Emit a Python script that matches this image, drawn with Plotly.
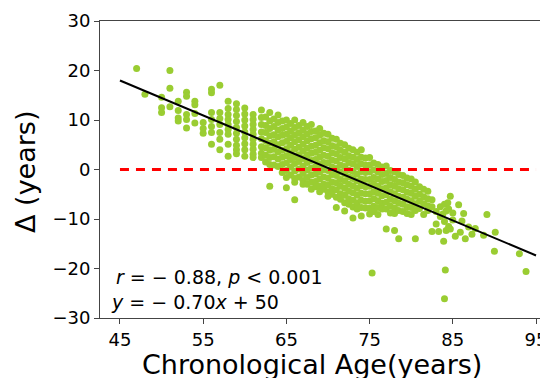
import plotly.graph_objects as go

# ---------------- data ----------------
# chronological age columns and the brain-age delta values found in each column
left_ages = [47, 48, 50, 51, 52, 53, 54, 55, 56, 57, 58, 59, 60, 61]
left_deltas = [
    [20.4],
    [15.2],
    [14.6, 12.5, 11.5],
    [20.0, 16.4, 12.7],
    [13.8, 11.9, 10.4, 9.8],
    [15.6, 14.8, 11.1, 10.1, 8.4],
    [13.8, 13.1, 11.3, 9.4],
    [9.5, 8.3, 7.3],
    [16.2, 15.5, 11.5, 10.1, 8.7, 7.5, 5.1],
    [17.0, 11.5, 10.3, 9.1, 7.5, 6.1, 4.0],
    [13.8, 12.3, 11.1, 10.1, 9.1, 8.1, 7.1, 5.1, 2.7],
    [13.3, 12.1, 10.9, 9.7, 8.5, 7.3, 6.1, 4.9, 4.0, 3.2],
    [12.4, 11.2, 10.0, 8.8, 7.6, 6.4, 5.2, 4.0, 2.7],
    [11.1, 10.1, 9.1, 8.1, 7.1, 6.1, 5.1, 4.1, 3.1, 2.4],
]

mid_ages = [62, 62.5, 63, 63.5, 64, 64.5, 65, 65.5, 66, 66.5, 67, 67.5, 68, 68.5,
            69, 69.5, 70, 70.5, 71, 71.5, 72, 72.5]
mid_deltas = [
    [12.0, 10.5, 9.1, 7.6, 6.2, 4.6, 3.3, 2.4],
    [10.6, 8.9, 7.5, 5.8, 4.4, 2.9, 1.5],
    [11.5, 9.8, 8.3, 6.8, 5.3, 3.9, 2.4, 1.0, -3.4],
    [10.2, 8.7, 7.0, 5.6, 4.1, 2.6, 0.9],
    [11.0, 9.5, 8.0, 6.6, 5.0, 3.6, 2.1, 0.6],
    [9.8, 8.3, 6.9, 5.4, 3.9, 2.5, 1.0, -0.6],
    [10.0, 8.6, 7.1, 5.7, 4.2, 2.8, 1.3, -0.2, -1.6, -3.7],
    [9.3, 7.8, 6.4, 4.9, 3.4, 2.0, 0.5, -1.1],
    [10.0, 8.5, 7.0, 5.6, 4.1, 2.6, 1.2, -0.3, -1.8, -2.6, -6.1],
    [8.9, 7.4, 6.0, 4.5, 3.0, 1.6, 0.1, -1.5],
    [9.5, 8.0, 6.6, 5.1, 3.7, 2.2, 0.7, -0.8, -2.2, -3.0],
    [8.7, 7.2, 5.8, 4.3, 2.9, 1.4, -0.1, -1.6, -3.0],
    [9.1, 7.7, 6.2, 4.7, 3.3, 1.8, 0.3, -1.1, -2.6, -4.0],
    [7.8, 6.4, 4.9, 3.5, 2.0, 0.6, -0.9, -2.4, -3.5],
    [8.3, 6.9, 5.4, 3.9, 2.5, 1.0, -0.5, -1.9, -3.4, -4.5],
    [7.3, 5.8, 4.4, 2.9, 1.4, 0.0, -1.5, -3.0, -4.0],
    [7.1, 5.6, 4.2, 2.7, 1.3, -0.2, -1.7, -3.1, -4.5, -5.4],
    [6.3, 4.8, 3.4, 1.9, 0.5, -1.0, -2.5, -3.9, -5.0],
    [6.1, 4.6, 3.2, 1.7, 0.2, -1.2, -2.7, -4.1, -5.6, -7.7],
    [5.3, 3.9, 2.4, 0.9, -0.5, -2.0, -3.4, -4.9, -6.0],
    [5.0, 3.5, 2.1, 0.6, -0.9, -2.3, -3.8, -5.2, -6.7, -8.4],
    [4.3, 2.8, 1.4, -0.1, -1.5, -3.0, -4.4, -5.9, -7.0],
]

late_ages = [73, 73.5, 74, 74.5, 75, 75.3, 75.5, 76, 76.5, 77, 77.5, 78, 78.5,
             79, 79.5, 80, 80.5, 81, 81.5, 82, 82.5]
late_deltas = [
    [4.0, 2.5, 1.1, -0.4, -1.8, -3.3, -4.7, -6.2, -7.6, -9.8],
    [3.5, 2.0, 0.6, -0.9, -2.3, -3.8, -5.2, -6.7, -8.0],
    [4.0, 2.5, 1.1, -0.4, -1.9, -3.3, -4.8, -6.2, -7.7, -9.4],
    [2.3, 0.9, -0.6, -2.0, -3.5, -4.9, -6.4, -7.8],
    [2.4, 0.9, -0.5, -2.0, -3.4, -4.9, -6.3, -7.8, -9.0],
    [-20.9],
    [1.3, -0.1, -1.6, -3.0, -4.5, -5.9, -7.4, -8.5],
    [1.0, -0.5, -1.9, -3.4, -4.8, -6.3, -7.7, -9.1],
    [0.5, -1.0, -2.4, -3.9, -5.3, -6.8, -8.0],
    [0.7, -0.8, -2.2, -3.7, -5.1, -6.6, -8.0, -12.0],
    [-0.2, -1.6, -3.1, -4.5, -6.0, -7.4, -8.8],
    [-0.5, -2.0, -3.4, -4.9, -6.3, -7.8, -8.9, -12.3],
    [-1.0, -2.5, -3.9, -5.4, -6.8, -8.3, -14.0],
    [-1.2, -2.7, -4.1, -5.6, -7.0, -8.5],
    [-1.7, -3.1, -4.6, -6.0, -7.5, -8.9],
    [-1.9, -3.4, -4.8, -6.3, -7.7, -9.1],
    [-2.5, -4.0, -5.4, -6.9, -8.3, -14.0],
    [-3.5, -5.0, -6.4, -7.9],
    [-4.0, -5.5, -6.9, -9.1],
    [-4.4, -5.9, -7.3, -8.3],
    [-6.1, -7.5, -12.5],
]

old_ages = [83.0, 83.0, 83.3, 83.5, 83.5, 83.8, 83.9, 84.0, 84.0, 84.0, 84.1, 84.2,
            84.2, 84.4, 84.5, 84.5, 84.7, 84.7, 85.0, 85.0, 85.3, 85.7, 85.9, 86.1,
            86.3, 86.5, 86.9, 87.3, 87.7, 88.7, 89.1, 90.0, 90.1, 93.0, 93.8]
old_deltas = [-8.5, -11.0, -12.5, -7.5, -9.5, -9.0, -14.5, -7.0, -10.5, -26.1, -20.3, -8.4,
              -12.3, -6.7, -11.5, -8.0, -5.4, -12.0, -10.2, -8.8, -13.5, -7.1, -12.7, -10.4,
              -8.9, -14.0, -11.6, -13.1, -11.9, -13.3, -9.1, -16.5, -12.7, -17.0, -20.6]

# fitted regression line reported in the figure
fit_slope = -0.707
fit_intercept = 49.8
fit_x = [45, 95]
ref_x = [45, 95]
ref_y = [0, 0]

x_ticks = [45, 55, 65, 75, 85, 95]
y_ticks = [-30, -20, -10, 0, 10, 20, 30]

# ---------------- assemble ----------------
ages, deltas = [], []
for a_list, d_list in ((left_ages, left_deltas), (mid_ages, mid_deltas), (late_ages, late_deltas)):
    for a, ds in zip(a_list, d_list):
        for d in ds:
            ages.append(a)
            deltas.append(d)
ages += old_ages
deltas += old_deltas

fit_y = [fit_slope * x + fit_intercept for x in fit_x]

FONT = "DejaVu Sans"

fig = go.Figure()
fig.add_trace(go.Scatter(
    x=ages, y=deltas, mode="markers",
    marker=dict(color="#9ACD32", size=7, line=dict(width=0)),
    showlegend=False, hoverinfo="skip", cliponaxis=False))
fig.add_trace(go.Scatter(
    x=ref_x, y=ref_y, mode="lines",
    line=dict(color="#FF0000", width=3, dash="9px,7px"),
    showlegend=False))
fig.add_trace(go.Scatter(
    x=fit_x, y=fit_y, mode="lines",
    line=dict(color="black", width=2),
    showlegend=False))

fig.add_annotation(x=0.031, y=0.138, xref="paper", yref="paper", xanchor="left", yanchor="middle",
                   text="<i>r</i> = − 0.88, <i>p</i> < 0.001", showarrow=False,
                   font=dict(family=FONT, size=19, color="black"))
fig.add_annotation(x=0.02, y=0.055, xref="paper", yref="paper", xanchor="left", yanchor="middle",
                   text="<i>y</i> = − 0.70<i>x</i> + 50", showarrow=False,
                   font=dict(family=FONT, size=19, color="black"))

# axis titles
fig.add_annotation(x=0.473, y=-0.158, xref="paper", yref="paper", xanchor="center", yanchor="middle",
                   text="Chronological Age(years)", showarrow=False, borderpad=0,
                   font=dict(family=FONT, size=27, color="black"))
fig.add_annotation(x=-0.165, y=0.492, xref="paper", yref="paper", xanchor="center", yanchor="middle",
                   text="Δ (years)", showarrow=False, textangle=-90,
                   font=dict(family=FONT, size=27, color="black"))

# the page body adds an 8px offset, so the figure is 540x370 and ends at the window edge
fig.update_layout(
    width=540, height=370,
    margin=dict(l=92, r=0, t=13, b=60, autoexpand=False),
    plot_bgcolor="white", paper_bgcolor="white",
    font=dict(family=FONT, size=18, color="black"),
    xaxis=dict(range=[42.6, 96.44], tickvals=x_ticks, ticks="outside", ticklen=5,
               tickcolor="#444", showline=True, linecolor="#444", linewidth=1, mirror=True,
               showgrid=False, zeroline=False, automargin=False, ticklabeloverflow="allow",
               tickfont=dict(size=18)),
    yaxis=dict(range=[-30, 30], tickvals=y_ticks, ticks="outside", ticklen=5,
               tickcolor="#444", showline=True, linecolor="#444", linewidth=1, mirror=False,
               showgrid=False, zeroline=False, automargin=False, ticklabeloverflow="allow",
               tickfont=dict(size=18)),
)

fig.write_html("out.html")
